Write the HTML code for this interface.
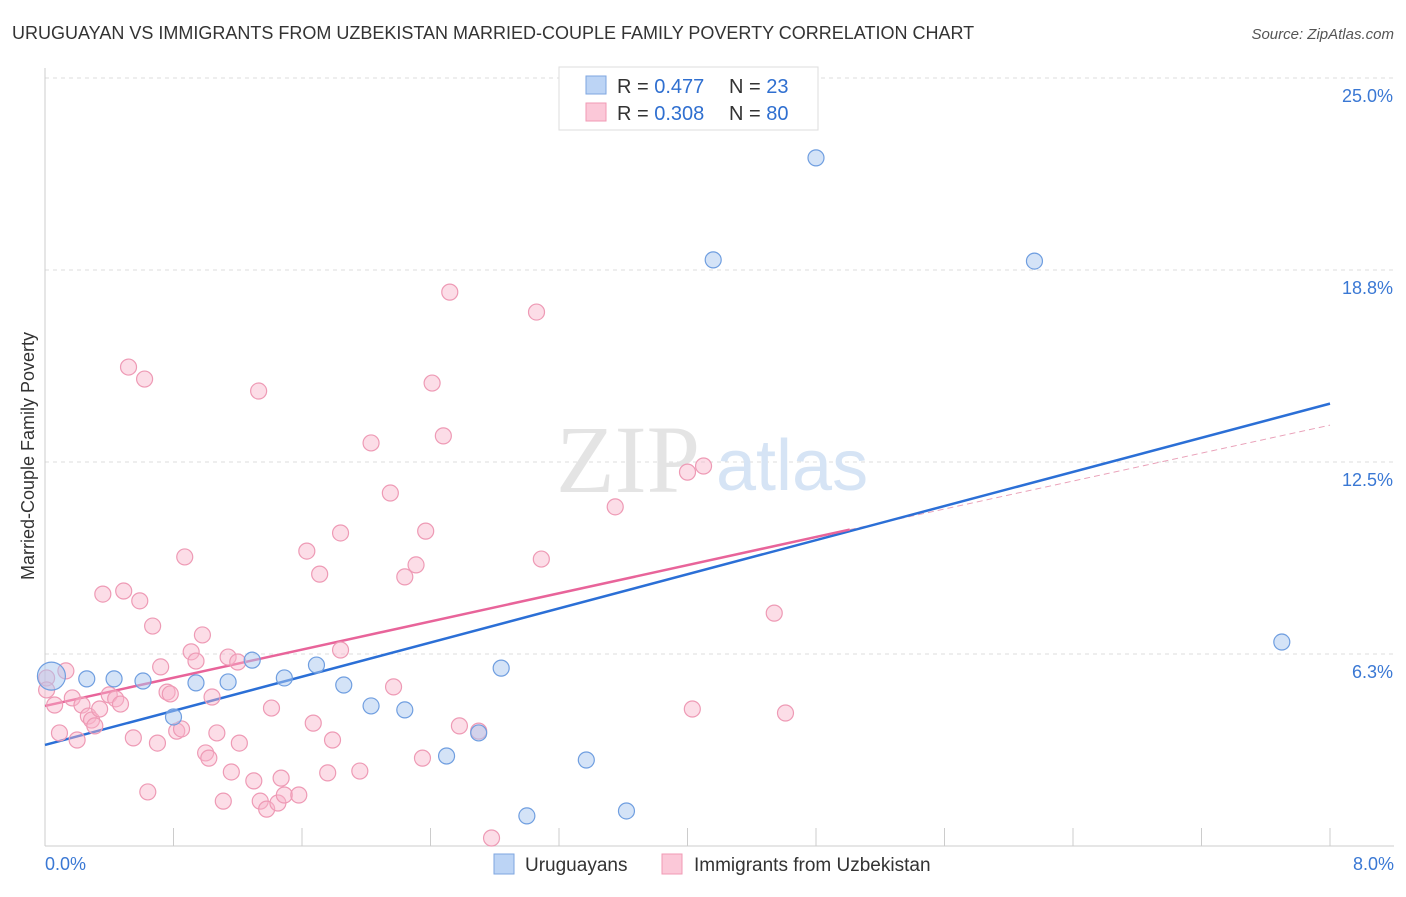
<!DOCTYPE html>
<html><head><meta charset="utf-8"><style>
body{margin:0;background:#fff;font-family:"Liberation Sans",sans-serif}
</style></head><body>
<svg width="1406" height="892" xmlns="http://www.w3.org/2000/svg" font-family="Liberation Sans, sans-serif">
<text x="12" y="39" font-size="18" fill="#333">URUGUAYAN VS IMMIGRANTS FROM UZBEKISTAN MARRIED-COUPLE FAMILY POVERTY CORRELATION CHART</text>
<text x="1394" y="39" font-size="15" fill="#555" font-style="italic" text-anchor="end">Source: ZipAtlas.com</text>
<g id="grid"></g>
<text x="700" y="492" font-size="96" fill="#e4e4e4" font-family="Liberation Serif, serif" text-anchor="end">ZIP</text>
<text x="716" y="490" font-size="72" fill="#d6e4f5">atlas</text>
<text transform="translate(34,456) rotate(-90)" font-size="18" fill="#333" text-anchor="middle">Married-Couple Family Poverty</text>
<g id="lines"></g>
<g id="points"></g>
<g>
<rect x="559" y="67" width="259" height="63" fill="#fff" stroke="#ddd"/>
<rect x="586" y="76" width="20" height="18" fill="#bcd4f5" stroke="#7ea6e0"/>
<rect x="586" y="103" width="20" height="18" fill="#fbc8d8" stroke="#f09ab4"/>
<text x="617" y="93" font-size="20" fill="#333">R = <tspan fill="#2f6fd0">0.477</tspan><tspan x="729">N = </tspan><tspan fill="#2f6fd0">23</tspan></text>
<text x="617" y="120" font-size="20" fill="#333">R = <tspan fill="#2f6fd0">0.308</tspan><tspan x="729">N = </tspan><tspan fill="#2f6fd0">80</tspan></text>
</g>
<g>
<rect x="494" y="854" width="20" height="20" fill="#bcd4f5" stroke="#7ea6e0"/>
<text x="525" y="871" font-size="19" fill="#333">Uruguayans</text>
<rect x="662" y="854" width="20" height="20" fill="#fbc8d8" stroke="#f09ab4"/>
<text x="694" y="871" font-size="19" fill="#333">Immigrants from Uzbekistan</text>
</g>
<script>
const yTicks=[6.25,12.5,18.75,25];
const yTickLabels=["6.3%","12.5%","18.8%","25.0%"];
const xDomain=[0,8];
const xTickLabels=["0.0%","8.0%"];
const blueX=[0.04,0.26,0.43,0.61,0.80,0.94,1.14,1.29,1.49,1.69,1.86,2.03,2.24,2.50,2.70,2.84,3.00,3.37,3.62,4.16,4.80,6.16,7.70];
const blueY=[5.53,5.44,5.44,5.37,4.20,5.31,5.34,6.05,5.47,5.89,5.24,4.56,4.43,2.93,3.68,5.79,0.98,2.80,1.14,19.08,22.4,19.04,6.64];
const pinkX=[0.01,0.06,0.09,0.13,0.17,0.20,0.23,0.27,0.29,0.31,0.34,0.36,0.40,0.44,0.47,0.49,0.52,0.55,0.59,0.62,0.64,0.67,0.70,0.72,0.76,0.78,0.82,0.85,0.87,0.91,0.94,0.98,1.00,1.02,1.04,1.07,1.11,1.14,1.16,1.20,1.21,1.30,1.33,1.34,1.38,1.41,1.45,1.47,1.49,1.58,1.63,1.67,1.71,1.76,1.79,1.84,1.84,1.96,2.03,2.15,2.17,2.24,2.31,2.35,2.37,2.41,2.48,2.52,2.58,2.70,2.78,3.06,3.09,3.55,4.00,4.10,4.54,4.03,4.61,0.01];
const pinkY=[5.47,4.59,3.68,5.70,4.82,3.45,4.59,4.23,4.10,3.91,4.46,8.20,4.92,4.79,4.62,8.30,15.59,3.52,7.98,15.20,1.76,7.16,3.35,5.83,5.01,4.95,3.74,3.81,9.41,6.32,6.02,6.87,3.03,2.86,4.85,3.68,1.46,6.15,2.41,5.99,3.35,2.12,14.81,1.46,1.20,4.49,1.40,2.21,1.66,1.66,9.60,4.00,8.85,2.38,3.45,10.19,6.38,2.44,13.12,11.49,5.18,8.76,9.15,2.86,10.25,15.07,13.35,18.03,3.91,3.74,0.26,17.38,9.34,11.04,12.17,12.37,7.58,4.46,4.33,5.08];
const blueLine=[[0,3.29],[8,14.4]];
const pinkLine=[[0,4.56],[5.01,10.3]];
const pinkDash=[[5.01,10.3],[8,13.7]];
const X=v=>45+(v-xDomain[0])/(xDomain[1]-xDomain[0])*1285;
const Y=v=>846-v*30.72;
const NS="http://www.w3.org/2000/svg";
function mk(t,a,p){const e=document.createElementNS(NS,t);for(const k in a)e.setAttribute(k,a[k]);p.appendChild(e);return e;}
const g=document.getElementById('grid');
yTicks.forEach((t,i)=>{
 const l=mk('line',{x1:45,x2:1394,y1:Y(t),y2:Y(t),stroke:'#ddd','stroke-dasharray':'4,4'},g);
 
 
 const tx=mk('text',{x:1393,y:Y(t)+24,'font-size':18,fill:'#3a78d4','text-anchor':'end'},g);
 tx.textContent=yTickLabels[i];
 
 
});
const ax=mk('line',{x1:45,x2:45,y1:68,y2:846,stroke:'#ccc'},g);


const bx=mk('line',{x1:45,x2:1394,y1:846,y2:846,stroke:'#ccc'},g);


for(let i=0;i<=10;i++){const v=xDomain[0]+i*(xDomain[1]-xDomain[0])/10;
 const t=mk('line',{x1:X(v),x2:X(v),y1:828,y2:846,stroke:'#ccc'},g);
 
 }
[[xDomain[0],'start',45],[xDomain[1],'end',1394]].forEach((d,i)=>{
 const t=mk('text',{x:d[2],y:870,'font-size':18,fill:'#3a78d4','text-anchor':d[1]},g);
 t.textContent=xTickLabels[i];
 
 });
const pts=document.getElementById('points');
pinkX.forEach((x,i)=>{
 const c=mk('circle',{cx:X(x),cy:Y(pinkY[i]),r:8,fill:'rgba(248,180,202,0.45)',stroke:'#ee9ab5','stroke-width':1.2},pts);
 
 });
blueX.forEach((x,i)=>{
 const c=mk('circle',{cx:X(x),cy:Y(blueY[i]),r:i===0?14:8,fill:'rgba(170,200,240,0.5)',stroke:'#6f9ee0','stroke-width':1.2},pts);
 
 });
const L=document.getElementById('lines');
const pd=mk('line',{x1:X(pinkDash[0][0]),y1:Y(pinkDash[0][1]),x2:X(pinkDash[1][0]),y2:Y(pinkDash[1][1]),stroke:'#e9a0b8','stroke-dasharray':'6,4','stroke-width':1},L);


const bl=mk('line',{x1:X(blueLine[0][0]),y1:Y(blueLine[0][1]),x2:X(blueLine[1][0]),y2:Y(blueLine[1][1]),stroke:'#2b6fd6','stroke-width':2.5},L);


const pl=mk('line',{x1:X(pinkLine[0][0]),y1:Y(pinkLine[0][1]),x2:X(pinkLine[1][0]),y2:Y(pinkLine[1][1]),stroke:'#e8649a','stroke-width':2.5},L);


</script>
</svg>
</body></html>
